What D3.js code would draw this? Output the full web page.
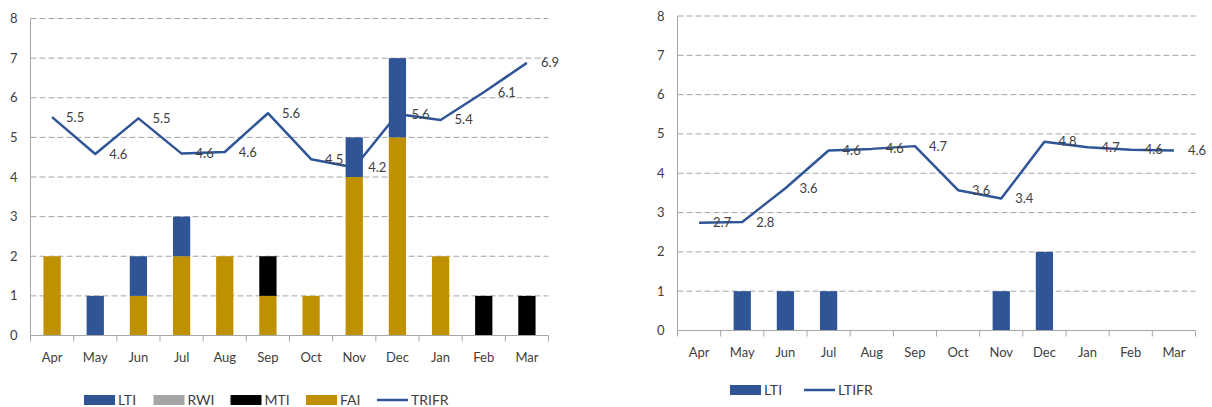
<!DOCTYPE html>
<html>
<head>
<meta charset="utf-8">
<script src="https://cdn.jsdelivr.net/npm/d3@7"></script>
<style>
  body { margin: 0; background: #fff; }
  svg text { font-family: Lato, "Open Sans", sans-serif; fill: #404040; }
</style>
</head>
<body>
<div id="chart"></div>
<script>
let width = 1212;
let height = 407;

// data
let months = ["Apr", "May", "Jun", "Jul", "Aug", "Sep", "Oct", "Nov", "Dec", "Jan", "Feb", "Mar"];
let lti = [0, 1, 1, 1, 0, 0, 0, 1, 2, 0, 0, 0];
let rwi = [0, 0, 0, 0, 0, 0, 0, 0, 0, 0, 0, 0];
let mti = [0, 0, 0, 0, 0, 1, 0, 0, 0, 0, 1, 1];
let fai = [2, 0, 1, 2, 2, 1, 1, 4, 5, 2, 0, 0];
let trifr = [5.51, 4.58, 5.48, 4.59, 4.63, 5.61, 4.45, 4.24, 5.59, 5.44, 6.14, 6.88];
let ltiRight = [0, 1, 1, 1, 0, 0, 0, 1, 2, 0, 0, 0];
let ltifr = [2.74, 2.76, 3.62, 4.58, 4.62, 4.69, 3.57, 3.36, 4.80, 4.66, 4.60, 4.58];
let yTicks = [0, 1, 2, 3, 4, 5, 6, 7, 8];

let colors = {LTI: "#2F5597", RWI: "#A5A5A5", MTI: "#000000", FAI: "#BF9000"};
let lineColor = "#2F5597";
let gridColor = "#A6A6A6";

let svg = d3.select("#chart").append("svg")
    .attr("width", width)
    .attr("height", height);

function drawPanel(opts) {
    let g = svg.append("g");

    let x = d3.scaleBand()
        .domain(months)
        .range([opts.left, opts.right])
        .paddingInner(0.6)
        .paddingOuter(0.3);

    let y = d3.scaleLinear()
        .domain([0, 8])
        .range([opts.bottom, opts.top]);

    // dashed gridlines
    g.selectAll(".grid")
        .data(yTicks.filter(d => d > 0))
        .enter().append("line")
        .attr("x1", opts.left)
        .attr("x2", opts.right)
        .attr("y1", d => y(d))
        .attr("y2", d => y(d))
        .attr("stroke", gridColor)
        .attr("stroke-width", 1)
        .attr("stroke-dasharray", "6,3");

    // y labels
    g.selectAll(".ylab")
        .data(yTicks)
        .enter().append("text")
        .attr("x", opts.left - 13)
        .attr("y", d => y(d))
        .attr("dy", "0.35em")
        .attr("text-anchor", "end")
        .style("font-size", "13px")
        .text(d => d);

    // bars
    let rows = months.map((m, i) => {
        let row = {month: m};
        opts.series.forEach(s => { row[s.key] = s.values[i]; });
        return row;
    });
    let stacked = d3.stack().keys(opts.series.map(s => s.key))(rows);

    g.selectAll(".layer")
        .data(stacked)
        .enter().append("g")
        .attr("fill", d => colors[d.key])
        .selectAll("rect")
        .data(d => d)
        .enter().append("rect")
        .attr("x", d => x(d.data.month))
        .attr("width", x.bandwidth())
        .attr("y", d => y(d[1]))
        .attr("height", d => y(d[0]) - y(d[1]));

    // axes lines
    g.append("line")
        .attr("x1", opts.left).attr("x2", opts.left)
        .attr("y1", y(0)).attr("y2", y(8))
        .attr("stroke", gridColor);
    g.append("line")
        .attr("x1", opts.left).attr("x2", opts.right)
        .attr("y1", y(0)).attr("y2", y(0))
        .attr("stroke", gridColor);

    g.selectAll(".xtick")
        .data(d3.range(months.length + 1))
        .enter().append("line")
        .attr("x1", i => opts.left + i * (opts.right - opts.left) / months.length)
        .attr("x2", i => opts.left + i * (opts.right - opts.left) / months.length)
        .attr("y1", y(0))
        .attr("y2", y(0) + 6)
        .attr("stroke", gridColor);

    g.selectAll(".xlab")
        .data(months)
        .enter().append("text")
        .attr("x", d => x(d) + x.bandwidth() / 2)
        .attr("y", y(0) + 26)
        .attr("text-anchor", "middle")
        .style("font-size", "13px")
        .text(d => d);

    // rate line
    let cx = (d, i) => x(months[i]) + x.bandwidth() / 2;
    let line = d3.line()
        .x((d, i) => cx(d, i))
        .y(d => y(d));

    g.append("path")
        .datum(opts.rate)
        .attr("fill", "none")
        .attr("stroke", lineColor)
        .attr("stroke-width", 2.5)
        .attr("stroke-linejoin", "round")
        .attr("d", line);

    g.selectAll(".rlab")
        .data(opts.rate)
        .enter().append("text")
        .attr("x", (d, i) => cx(d, i) + 14)
        .attr("y", d => y(d))
        .attr("dy", "0.35em")
        .style("font-size", "13px")
        .text(d => d3.format(".1f")(d));

    // legend
    let lg = g.append("g").attr("transform", "translate(0," + opts.legendY + ")");
    opts.legend.forEach(item => {
        if (item.type === "rect") {
            lg.append("rect")
                .attr("x", item.x).attr("y", -5)
                .attr("width", 31).attr("height", 10)
                .attr("fill", colors[item.name]);
        } else {
            lg.append("line")
                .attr("x1", item.x).attr("x2", item.x + 31)
                .attr("y1", 0).attr("y2", 0)
                .attr("stroke", lineColor)
                .attr("stroke-width", 2.5);
        }
        lg.append("text")
            .attr("x", item.x + 34)
            .attr("y", 0)
            .attr("dy", "0.35em")
            .style("font-size", "14px")
            .text(item.name);
    });
}

drawPanel({
    left: 30.5, right: 548.5, top: 18.5, bottom: 335.5,
    series: [
        {key: "FAI", values: fai},
        {key: "MTI", values: mti},
        {key: "RWI", values: rwi},
        {key: "LTI", values: lti}
    ],
    rate: trifr,
    legendY: 400,
    legend: [
        {name: "LTI", type: "rect", x: 84},
        {name: "RWI", type: "rect", x: 153.5},
        {name: "MTI", type: "rect", x: 230.5},
        {name: "FAI", type: "rect", x: 306},
        {name: "TRIFR", type: "line", x: 377}
    ]
});

drawPanel({
    left: 677.5, right: 1195.5, top: 16, bottom: 330.5,
    series: [{key: "LTI", values: ltiRight}],
    rate: ltifr,
    legendY: 390,
    legend: [
        {name: "LTI", type: "rect", x: 730},
        {name: "LTIFR", type: "line", x: 804}
    ]
});
</script>
</body>
</html>
